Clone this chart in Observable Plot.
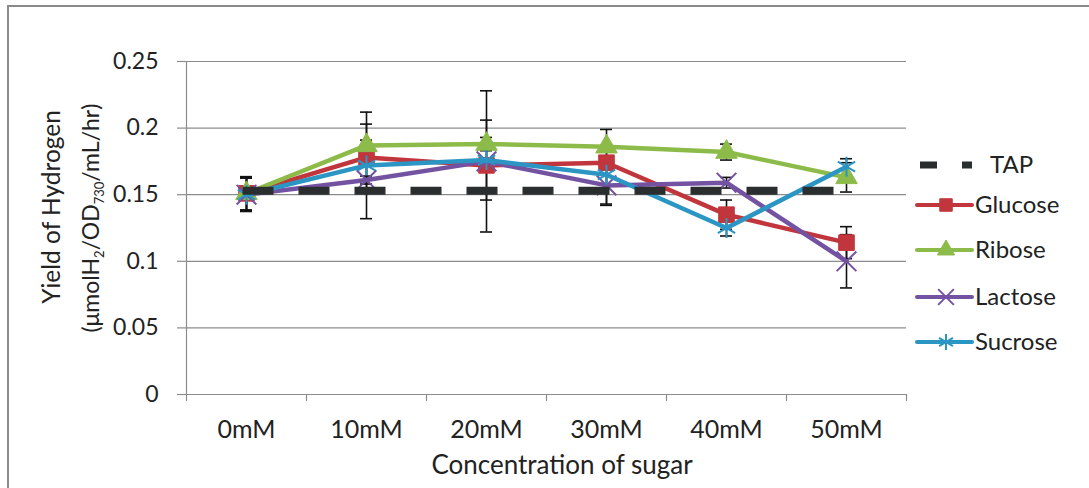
<!DOCTYPE html>
<html>
<head>
<meta charset="utf-8">
<script src="https://cdn.jsdelivr.net/npm/d3@7"></script>
<script src="https://cdn.jsdelivr.net/npm/@observablehq/plot@0.6"></script>
<style>
  html, body { margin: 0; padding: 0; background: #fff; }
  #wrap { position: relative; width: 1089px; height: 488px; overflow: hidden; font-family: Lato, "Open Sans", sans-serif; color: #222; }
  #frame { position: absolute; left: 7px; top: 5px; width: 1100px; height: 500px; border-left: 2px solid #8a8a8a; border-top: 2px solid #8a8a8a; }
  #chart { position: absolute; left: 0; top: 0; }
  .ylab { position: absolute; white-space: nowrap; line-height: 1; transform: translate(-50%, -50%) rotate(-90deg); }
  .ylab sub { font-size: 13px; vertical-align: -5px; line-height: 0; }
  #xlab { position: absolute; left: 562px; top: 451px; transform: translateX(-50%); font-size: 26px; line-height: 1; white-space: nowrap; }
  .leg { position: absolute; font-size: 24px; line-height: 1; white-space: nowrap; }
  .legsw { position: absolute; }
</style>
</head>
<body>
<div id="wrap">
  <div id="frame"></div>
  <div id="chart"></div>
  <div class="ylab" style="left:51px; top:207px; font-size:24.5px;">Yield of Hydrogen</div>
  <div class="ylab" style="left:90px; top:218px; font-size:23px;">(μmolH<sub>2</sub>/OD<sub>730</sub>/mL/hr)</div>
  <div id="xlab">Concentration of sugar</div>
</div>
<script>
// ---- data ----
const categories = ["0mM", "10mM", "20mM", "30mM", "40mM", "50mM"];
const yTicks = [0, 0.05, 0.1, 0.15, 0.2, 0.25];

const tapValues = [0.153, 0.153, 0.153, 0.153, 0.153, 0.153];

const glucose    = [0.151, 0.178, 0.172, 0.174, 0.135, 0.114];
const glucoseErr = [0.0125, 0.025, 0.005, 0.005, 0.011, 0.012];

const ribose     = [0.151, 0.187, 0.188, 0.186, 0.182, 0.163];
const riboseErr  = [0.0125, 0.004, 0.005, 0.013, 0.006, 0.011];

const lactose    = [0.150, 0.161, 0.175, 0.157, 0.159, 0.100];
const lactoseErr = [0.0125, 0.003, 0.053, 0.015, 0.004, 0.020];

const sucrose    = [0.150, 0.172, 0.176, 0.165, 0.125, 0.171];
const sucroseErr = [0.0125, 0.040, 0.030, 0.022, 0.006, 0.006];

const seriesNames = ["Glucose", "Ribose", "Lactose", "Sucrose"];

// ---- styles ----
const styles = {
  Glucose: {color: "#c1363c", symbol: "square",   r: 8.8, filled: true},
  Ribose:  {color: "#8dbb4a", symbol: "triangle", r: 8,   filled: true},
  Lactose: {color: "#7452a2", symbol: "times",    r: 9,   filled: false},
  Sucrose: {color: "#2b95c4", symbol: "asterisk", r: 9.5, filled: false}
};
const tapColor = "#2a2e2e";
const gridColor = "#8c8c8c";
const textColor = "#222";

const seriesData = {Glucose: [glucose, glucoseErr], Ribose: [ribose, riboseErr], Lactose: [lactose, lactoseErr], Sucrose: [sucrose, sucroseErr]};
const rows = seriesNames.flatMap(s => seriesData[s][0].map((v, i) => ({series: s, i, value: v, err: seriesData[s][1][i]})));
const tapRows = tapValues.map((v, i) => ({i, value: v}));
const edges = d3.range(categories.length + 1).map(k => k - 0.5);

const W = 1089, H = 488, mL = 186, mR = 183, mT = 61, mB = 94;
const unitX = (W - mL - mR) / categories.length;      // px per category
const unitY = (H - mT - mB) / 0.25;                    // px per y unit
const capHalf = 6 / unitX;
const xTickLen = 7 / unitY;
const yTickLen = 9 / unitX;

const marks = [
  // grid lines
  Plot.ruleY(yTicks, {y: d => d, x1: -0.5, x2: categories.length - 0.5, stroke: gridColor, strokeWidth: 1.2}),
  // y axis line and ticks
  Plot.ruleX([-0.5], {y1: 0, y2: 0.25, stroke: gridColor, strokeWidth: 1.2}),
  Plot.ruleY(yTicks, {y: d => d, x1: -0.5 - yTickLen, x2: -0.5, stroke: gridColor, strokeWidth: 1.2}),
  // x axis ticks between categories
  Plot.ruleX(edges, {x: d => d, y1: 0, y2: -xTickLen, stroke: gridColor, strokeWidth: 1.2}),
  // tick labels
  Plot.text(yTicks, {x: -0.5, y: d => d, text: d => String(+d.toFixed(2)), textAnchor: "end", dx: -28, fontSize: 23, fill: textColor}),
  Plot.text(categories, {x: (d, i) => i, y: 0, text: d => d, dy: 35, fontSize: 25, fill: textColor}),
  // error bars
  Plot.ruleX(rows, {x: "i", y1: d => d.value - d.err, y2: d => d.value + d.err, stroke: "#111", strokeWidth: 1.6}),
  Plot.ruleY(rows, {y: d => d.value + d.err, x1: d => d.i - capHalf, x2: d => d.i + capHalf, stroke: "#111", strokeWidth: 1.6}),
  Plot.ruleY(rows, {y: d => d.value - d.err, x1: d => d.i - capHalf, x2: d => d.i + capHalf, stroke: "#111", strokeWidth: 1.6})
];
for (const s of seriesNames) {
  const st = styles[s];
  const data = rows.filter(d => d.series === s);
  marks.push(Plot.line(data, {x: "i", y: "value", stroke: st.color, strokeWidth: 4.5, strokeLinejoin: "round", strokeLinecap: "round"}));
  marks.push(Plot.dot(data, {x: "i", y: "value", symbol: st.symbol, r: st.r,
    fill: st.filled ? st.color : "none", stroke: st.color, strokeWidth: st.filled ? 1 : 2}));
}
marks.push(Plot.line(tapRows, {x: "i", y: "value", stroke: tapColor, strokeWidth: 8, strokeDasharray: "23,33", strokeLinecap: "square"}));

const chart = Plot.plot({
  width: W, height: H,
  marginLeft: mL, marginRight: mR, marginTop: mT, marginBottom: mB,
  style: {fontFamily: "Lato, 'Open Sans', sans-serif", color: textColor, background: "transparent", overflow: "visible"},
  x: {type: "linear", domain: [-0.5, categories.length - 0.5], axis: null},
  y: {type: "linear", domain: [0, 0.25], axis: null},
  marks
});
document.getElementById("chart").appendChild(chart);

// ---- legend (HTML + SVG swatches) ----
const wrap = document.getElementById("wrap");
const legendItems = [{name: "TAP", tap: true}, ...seriesNames.map(s => ({name: s}))];
const legendY = [165, 205, 250, 297, 342];
legendItems.forEach((item, k) => {
  const cy = legendY[k];
  const svg = d3.create("svg").attr("class", "legsw").attr("width", 70).attr("height", 24)
    .style("left", "910px").style("top", (cy - 12) + "px");
  if (item.tap) {
    svg.append("line").attr("x1", 10).attr("x2", 62).attr("y1", 12).attr("y2", 12)
      .attr("stroke", tapColor).attr("stroke-width", 7).attr("stroke-dasharray", "17,25");
  } else {
    const st = styles[item.name];
    svg.append("line").attr("x1", 7).attr("x2", 62).attr("y1", 12).attr("y2", 12)
      .attr("stroke", st.color).attr("stroke-width", 4).attr("stroke-linecap", "round");
    const symType = {square: d3.symbolSquare, triangle: d3.symbolTriangle, times: d3.symbolTimes, asterisk: d3.symbolAsterisk}[st.symbol];
    const rr = st.r * 0.8;
    svg.append("path").attr("transform", "translate(36,12)")
      .attr("d", d3.symbol(symType, rr * rr * Math.PI)())
      .attr("fill", st.filled ? st.color : "none").attr("stroke", st.color).attr("stroke-width", st.filled ? 1 : 2);
  }
  wrap.appendChild(svg.node());
  const t = document.createElement("div");
  t.className = "leg";
  t.textContent = item.name;
  t.style.left = (item.tap ? 990 : 975) + "px";
  t.style.top = (cy - 13) + "px";
  wrap.appendChild(t);
});
</script>
</body>
</html>
